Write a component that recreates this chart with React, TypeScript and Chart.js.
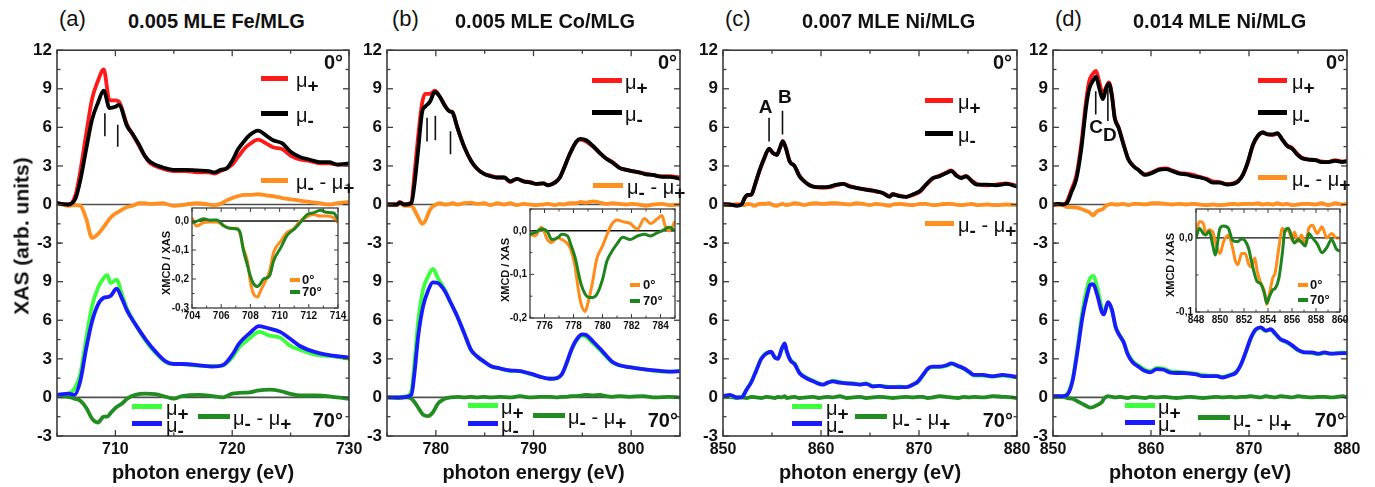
import React, { useEffect, useRef } from 'react';
import { Chart, registerables } from 'chart.js';

Chart.register(...registerables);

const FONT = "'Liberation Sans', Arial, Helvetica, sans-serif";
Chart.defaults.font.family = FONT;

// ---------------- panel (a): 0.005 MLE Fe/MLG ----------------
const feXTicks = [710, 720, 730];
const feEnergy0 = [705, 706, 706.6, 707, 707.5, 708, 708.5, 709, 709.5, 710, 710.3, 711, 711.5, 712, 712.5, 713, 714, 715, 716, 717, 718, 718.5, 719, 719.5, 720, 720.5, 721, 721.5, 722.2, 723, 723.5, 724.3, 725, 725.8, 726.6, 727.5, 728.3, 729, 730];
const feMuPlus0 = [0.1, 0.0, 0.8, 2.6, 5.5, 8.2, 9.6, 10.5, 8.1, 8.1, 8.0, 6.2, 5.4, 4.6, 3.8, 3.2, 2.8, 2.6, 2.6, 2.5, 2.5, 2.4, 2.6, 2.8, 3.1, 3.7, 4.3, 4.7, 5.05, 4.7, 4.45, 4.3, 3.8, 3.5, 3.4, 3.2, 3.2, 3.1, 3.1];
const feMuMinus0 = [0.1, 0.0, 0.5, 1.9, 4.3, 6.6, 7.9, 8.85, 7.5, 7.6, 7.75, 6.1, 5.45, 4.7, 3.8, 3.3, 2.9, 2.7, 2.7, 2.65, 2.6, 2.5, 2.7, 2.8, 3.4, 4.3, 4.9, 5.4, 5.75, 5.3, 5.0, 4.75, 4.1, 3.7, 3.5, 3.3, 3.3, 3.1, 3.2];
const feXmcd0 = [0.1, -0.1, -0.05, -0.1, -1.1, -2.6, -2.3, -1.75, -1.1, -0.7, -0.55, -0.2, -0.1, 0.1, 0.1, 0.05, 0.1, -0.1, 0.0, 0.1, 0.0, -0.05, 0.05, 0.3, 0.5, 0.65, 0.75, 0.75, 0.8, 0.7, 0.65, 0.5, 0.4, 0.3, 0.2, 0.1, 0.0, 0.1, 0.2];
const feEnergy70 = [705, 706, 706.5, 707, 707.5, 708, 708.5, 709, 709.3, 709.6, 710.1, 710.6, 711, 711.7, 712.6, 713.4, 714.3, 715, 715.7, 717.2, 718.3, 719.2, 720, 720.6, 721.5, 722.3, 723.2, 724.1, 724.9, 725.8, 727.2, 728.6, 730];
const feMuPlus70 = [0.2, 0.3, 0.7, 1.85, 4.6, 7.1, 8.5, 9.3, 9.5, 8.9, 9.15, 7.9, 6.9, 5.7, 4.4, 3.5, 2.75, 2.6, 2.6, 2.45, 2.45, 2.5, 3.1, 3.9, 4.6, 5.1, 4.8, 4.65, 4.05, 3.7, 3.3, 3.2, 3.0];
const feMuMinus70 = [0.2, 0.3, 0.2, 1.3, 3.8, 5.9, 7.2, 7.75, 7.8, 7.9, 8.45, 7.6, 6.75, 5.7, 4.5, 3.6, 2.8, 2.6, 2.6, 2.5, 2.4, 2.5, 3.3, 4.2, 5.0, 5.55, 5.35, 5.1, 4.6, 4.0, 3.5, 3.25, 3.1];
const feXmcd70 = [0.1, 0.05, -0.1, -0.25, -0.8, -1.65, -1.95, -1.5, -1.5, -1.2, -0.75, -0.45, -0.1, 0.2, 0.3, 0.25, 0.05, -0.1, 0.1, 0.2, 0.1, 0.0, 0.3, 0.35, 0.4, 0.55, 0.6, 0.5, 0.3, 0.15, 0.15, 0.05, -0.1];
const feMarkE = [709.1, 710.2];
const feMarkTop = [7.1, 6.2];
const feMarkBottom = [5.3, 4.5];

// inset (a)
const feInsetXTicks = [704, 706, 708, 710, 712, 714];
const feInsetYTicks = [-0.3, -0.2, -0.1, 0];
const feInsetE = [704, 704.3, 704.8, 705.2, 705.7, 706.2, 706.6, 707.1, 707.3, 707.5, 707.8, 708.0, 708.2, 708.5, 708.7, 708.9, 709.3, 709.6, 710.1, 710.5, 711.0, 711.4, 711.9, 712.3, 712.8, 713.2, 713.7, 714];
const feInset0 = [0.011, -0.017, -0.005, -0.003, -0.003, -0.017, -0.025, -0.025, -0.045, -0.09, -0.14, -0.21, -0.25, -0.262, -0.24, -0.22, -0.175, -0.107, -0.068, -0.04, -0.025, 0.0, 0.015, 0.023, 0.017, 0.017, 0.011, -0.006];
const feInset70 = [-0.006, -0.001, 0.008, 0.003, 0.004, -0.017, -0.025, -0.028, -0.04, -0.096, -0.153, -0.19, -0.215, -0.226, -0.215, -0.2, -0.19, -0.136, -0.09, -0.05, -0.028, -0.006, 0.023, 0.028, 0.037, 0.03, 0.028, 0.006];

// ---------------- panel (b): 0.005 MLE Co/MLG ----------------
const coXTicks = [780, 790, 800];
const coEnergy0 = [775, 776, 776.3, 776.8, 777.5, 777.8, 778.2, 778.6, 778.9, 779.4, 779.9, 780.4, 780.9, 781.4, 781.7, 782.2, 782.9, 783.6, 784.2, 784.9, 785.6, 786.3, 787, 787.6, 788.3, 789, 789.7, 790.3, 791, 791.5, 792.2, 792.7, 793, 793.7, 794.4, 794.8, 795.4, 796.1, 796.8, 797.4, 798.1, 798.8, 799.5, 800.1, 800.8, 801.5, 802.2, 803.2, 803.9, 805];
const coMuPlus0 = [0, 0, 0.2, 0, 0.2, 2.3, 5.4, 7.9, 8.6, 8.6, 8.85, 8.4, 7.75, 7.25, 7.2, 6.0, 4.5, 3.4, 2.8, 2.4, 2.25, 2.1, 2.1, 1.75, 2.0, 1.8, 1.75, 1.6, 1.65, 1.5, 1.75, 2.1, 2.6, 3.9, 4.9, 5.05, 4.9, 4.5, 4.0, 3.6, 3.3, 2.85, 2.7, 2.6, 2.5, 2.4, 2.3, 2.2, 2.2, 2.1];
const coMuMinus0 = [0, 0, 0.15, 0, 0.1, 1.5, 4.3, 7.2, 7.6, 8.0, 8.75, 8.4, 7.7, 7.25, 7.15, 6.0, 4.5, 3.4, 2.8, 2.4, 2.2, 2.1, 2.1, 1.8, 2.0, 1.8, 1.7, 1.6, 1.65, 1.5, 1.7, 2.1, 2.6, 3.9, 4.9, 5.1, 5.0, 4.55, 4.0, 3.6, 3.25, 2.85, 2.7, 2.6, 2.5, 2.35, 2.3, 2.15, 2.15, 2.0];
const coXmcd0 = [0, -0.05, 0.1, -0.1, -0.1, -0.4, -1.0, -1.5, -1.3, -0.4, -0.05, 0.1, 0.0, 0.05, 0.1, 0.0, 0.1, 0.15, 0.05, 0.1, -0.05, 0.1, 0.0, 0.1, -0.05, 0.05, 0.0, -0.05, 0.0, 0.05, -0.05, 0.05, 0.0, 0.1, 0.1, 0.2, 0.15, 0.25, 0.15, 0.05, 0.1, 0.05, 0.0, 0.05, 0.0, -0.1, 0.0, 0.05, -0.05, 0.0];
const coEnergy70 = [775, 776, 777, 777.5, 777.8, 778.2, 778.7, 779.2, 779.7, 780.2, 780.9, 781.5, 782.2, 782.9, 783.6, 784.2, 784.9, 785.6, 786.6, 787.6, 788.6, 789.7, 790.7, 791.7, 792.4, 792.9, 793.4, 793.9, 794.4, 795, 795.4, 796.1, 796.8, 797.4, 798.1, 798.8, 799.8, 801.2, 802.5, 803.9, 805];
const coMuPlus70 = [0, 0, 0.1, 0.5, 2.6, 6.0, 8.4, 9.4, 10.0, 9.3, 8.4, 7.4, 6.3, 5.0, 3.7, 3.2, 2.8, 2.45, 2.25, 2.05, 2.05, 1.8, 1.6, 1.45, 1.5, 1.8, 2.65, 3.7, 4.4, 4.8, 4.7, 4.2, 3.7, 3.2, 2.7, 2.5, 2.35, 2.2, 2.05, 2.0, 2.05];
const coMuMinus70 = [0, 0, 0.05, 0.2, 1.8, 4.8, 7.1, 8.3, 8.95, 8.9, 8.3, 7.4, 6.3, 5.0, 3.7, 3.2, 2.8, 2.45, 2.25, 2.1, 2.05, 1.85, 1.6, 1.45, 1.5, 1.8, 2.7, 3.75, 4.5, 4.9, 4.85, 4.35, 3.8, 3.3, 2.75, 2.5, 2.35, 2.2, 2.1, 2.0, 2.05];
const coXmcd70 = [0, -0.05, 0.0, -0.1, -0.35, -0.8, -1.35, -1.45, -1.15, -0.5, -0.1, 0.0, 0.05, 0.0, 0.05, 0.0, 0.05, 0.0, 0.05, 0.0, 0.1, 0.0, 0.05, 0.05, 0.0, 0.05, 0.05, 0.1, 0.1, 0.15, 0.2, 0.15, 0.2, 0.1, 0.05, 0.1, 0.05, 0.1, 0.0, 0.05, 0.0];
const coMarkE = [779.1, 779.95, 781.5];
const coMarkTop = [6.75, 6.9, 5.7];
const coMarkBottom = [4.9, 5.0, 3.9];

// inset (b)
const coInsetXTicks = [776, 778, 780, 782, 784];
const coInsetYTicks = [-0.2, -0.1, 0];
const coInsetE = [775, 775.35, 775.8, 776.2, 776.5, 776.9, 777.2, 777.6, 777.8, 778.1, 778.3, 778.5, 778.8, 779.0, 779.3, 779.6, 780.0, 780.3, 780.6, 781.0, 781.4, 781.9, 782.4, 782.9, 783.3, 783.8, 784.1, 784.3, 784.6, 785];
const coInset0 = [-0.008, -0.012, 0.008, -0.02, -0.027, -0.016, -0.02, -0.03, -0.042, -0.08, -0.127, -0.165, -0.185, -0.165, -0.12, -0.065, -0.035, -0.01, 0.013, 0.025, 0.021, 0.017, 0.004, 0.028, 0.017, 0.028, 0.035, 0.013, 0.0, 0.022];
const coInset70 = [-0.008, -0.004, 0.004, -0.002, -0.02, -0.016, -0.008, -0.012, -0.03, -0.06, -0.09, -0.12, -0.145, -0.152, -0.153, -0.146, -0.112, -0.07, -0.05, -0.03, -0.015, -0.02, -0.012, -0.008, -0.012, -0.004, 0.0, 0.004, 0.008, 0.0];

// ---------------- panel (c): 0.007 MLE Ni/MLG ----------------
const niXTicks = [850, 860, 870, 880];
const niCEnergy0 = [850, 850.7, 851.4, 851.9, 852.2, 852.5, 852.9, 853.2, 853.7, 854.2, 854.7, 855.1, 855.5, 855.8, 856.1, 856.4, 856.8, 857.3, 857.8, 858.3, 858.8, 859.5, 860.2, 860.9, 861.6, 862.3, 862.9, 863.6, 864.3, 865, 865.6, 866.3, 867, 867.3, 868, 868.7, 869.4, 870.1, 870.7, 871.4, 872.1, 872.8, 873.3, 873.8, 874.3, 874.8, 875.4, 875.9, 876.9, 877.9, 878.9, 880];
const niCMuMinus0 = [0, 0, -0.1, 0, 0.5, 0.75, 0.75, 1.4, 2.6, 3.6, 4.35, 4.0, 3.85, 4.4, 4.9, 4.4, 3.35, 3.0, 2.2, 1.8, 1.5, 1.35, 1.35, 1.4, 1.55, 1.6, 1.4, 1.3, 1.2, 1.1, 1.05, 0.9, 0.6, 0.8, 0.65, 0.6, 0.8, 1.05, 1.55, 2.05, 2.2, 2.45, 2.6, 2.25, 2.05, 2.2, 1.8, 1.55, 1.55, 1.5, 1.6, 1.4];
const niCMuPlus0 = [0.05, 0, -0.05, 0.05, 0.45, 0.7, 0.8, 1.35, 2.55, 3.55, 4.3, 4.0, 3.9, 4.35, 4.95, 4.45, 3.4, 3.0, 2.25, 1.8, 1.55, 1.35, 1.3, 1.35, 1.5, 1.6, 1.45, 1.3, 1.2, 1.15, 1.0, 0.9, 0.65, 0.8, 0.7, 0.6, 0.75, 1.0, 1.5, 2.0, 2.25, 2.5, 2.65, 2.3, 2.1, 2.2, 1.85, 1.6, 1.5, 1.55, 1.65, 1.45];
const niCXmcd0 = [0, -0.05, 0.05, 0, -0.05, 0.05, 0, -0.1, 0.05, 0.05, 0.1, -0.05, -0.1, 0, 0.05, -0.05, 0, 0.1, 0.05, -0.05, 0.05, 0.1, 0.05, 0.1, 0.1, 0.05, 0, 0.1, 0.05, -0.05, 0.05, 0, -0.1, 0, 0.05, 0, -0.05, 0.05, 0.05, -0.05, 0, 0.05, 0.05, 0, -0.05, 0, 0.05, -0.05, 0, -0.05, 0, -0.05];
const niCEnergy70 = [850, 850.7, 851.4, 851.9, 852.4, 852.9, 853.4, 853.9, 854.4, 854.9, 855.3, 855.6, 856, 856.3, 856.5, 856.9, 857.3, 857.8, 858.5, 859.2, 859.8, 860.2, 860.7, 861.2, 861.9, 862.6, 863.3, 864, 864.6, 865.3, 866, 866.7, 867.3, 868, 868.7, 869.4, 869.9, 870.4, 870.9, 871.4, 872.1, 872.8, 873.3, 874, 874.6, 875.1, 875.6, 876.5, 877.5, 878.5, 879.5, 880];
const niCMuMinus70 = [0.1, 0.2, 0, 0, 0.6, 1.2, 2.1, 3.0, 3.4, 3.55, 3.1, 3.0, 3.8, 4.2, 3.6, 2.85, 2.6, 1.9, 1.5, 1.25, 1.05, 1.0, 1.15, 1.25, 1.15, 1.1, 1.05, 1.0, 1.05, 0.85, 0.9, 0.8, 0.8, 0.8, 0.8, 1.0, 1.25, 1.75, 2.25, 2.4, 2.4, 2.5, 2.65, 2.45, 2.25, 2.0, 1.75, 1.75, 1.65, 1.75, 1.65, 1.6];
const niCMuPlus70 = [0.05, 0.15, 0, 0.05, 0.6, 1.25, 2.15, 3.0, 3.45, 3.5, 3.1, 3.05, 3.75, 4.15, 3.6, 2.9, 2.65, 1.95, 1.55, 1.3, 1.1, 1.0, 1.15, 1.3, 1.2, 1.1, 1.1, 1.0, 1.1, 0.9, 0.9, 0.85, 0.8, 0.85, 0.8, 1.0, 1.2, 1.7, 2.2, 2.35, 2.35, 2.45, 2.6, 2.4, 2.2, 1.95, 1.7, 1.7, 1.6, 1.7, 1.6, 1.55];
const niCXmcd70 = [0, 0.05, -0.05, 0, -0.05, 0.05, 0, -0.05, 0.05, 0, -0.05, 0.05, 0, 0.1, -0.05, 0, 0.05, -0.05, 0, 0.05, -0.05, 0, 0.05, 0, 0.1, -0.05, 0, 0.05, -0.05, 0, 0.05, 0, -0.05, 0, 0.05, 0, 0.05, 0.05, -0.05, 0, 0.1, 0.05, 0, -0.05, 0.05, 0, 0.05, 0, 0.1, 0.05, 0, -0.05];
const niCMarkE = [854.7, 856.07];
const niCMarkTop = [6.75, 7.3];
const niCMarkBottom = [4.9, 5.45];
const niCPeakNames = ['A', 'B'];
const niCPeakE = [854.36, 856.3];
const niCPeakY = [7.55, 8.3];

// ---------------- panel (d): 0.014 MLE Ni/MLG ----------------
const niDEnergy0 = [850, 850.5, 851, 851.4, 851.9, 852.4, 852.9, 853.4, 853.7, 854.1, 854.4, 854.7, 855.1, 855.4, 855.7, 856, 856.3, 856.7, 857.2, 857.7, 858.2, 858.7, 859.4, 860.1, 860.8, 861.5, 862.2, 862.9, 863.6, 864.3, 865, 865.7, 866.3, 867, 867.7, 868.4, 868.9, 869.4, 869.9, 870.4, 870.9, 871.4, 871.9, 872.4, 872.9, 873.4, 873.9, 874.4, 874.9, 875.4, 876.1, 876.8, 877.4, 878.1, 878.8, 879.5, 880];
const niDMuMinus0 = [0, 0.05, 0, 0.1, 1.0, 2.05, 4.4, 7.7, 9.0, 9.65, 9.95, 9.1, 8.2, 9.0, 9.4, 8.5, 6.7, 5.95, 4.65, 3.5, 3.0, 2.7, 2.3, 2.45, 2.7, 2.75, 2.6, 2.4, 2.35, 2.2, 2.1, 1.95, 1.7, 1.7, 1.55, 1.6, 1.8, 2.35, 3.35, 4.65, 5.35, 5.6, 5.45, 5.45, 5.55, 5.05, 4.55, 4.35, 3.9, 3.6, 3.5, 3.45, 3.3, 3.3, 3.4, 3.3, 3.35];
const niDMuPlus0 = [0, 0.05, 0, 0.2, 1.2, 2.3, 4.8, 8.2, 9.6, 10.2, 10.4, 9.6, 8.6, 9.1, 9.5, 8.6, 6.8, 6.0, 4.7, 3.5, 3.0, 2.7, 2.35, 2.5, 2.75, 2.8, 2.65, 2.45, 2.4, 2.3, 2.15, 2.0, 1.8, 1.75, 1.6, 1.65, 1.85, 2.35, 3.3, 4.6, 5.3, 5.6, 5.45, 5.4, 5.5, 5.05, 4.6, 4.4, 3.95, 3.65, 3.5, 3.45, 3.35, 3.3, 3.45, 3.35, 3.4];
const niDXmcd0 = [0, -0.05, 0, -0.2, -0.2, -0.25, -0.35, -0.5, -0.6, -0.85, -0.6, -0.45, -0.35, -0.1, 0.0, 0.05, 0.0, 0.0, 0.05, -0.05, 0.05, 0.05, 0.0, 0.1, 0.1, 0.05, 0.0, 0.05, 0.0, 0.05, 0.0, -0.05, 0.0, -0.05, 0.0, 0.05, 0.0, 0.05, 0.05, 0.05, 0.1, 0.0, 0.05, 0.0, 0.1, 0.0, 0.05, -0.05, 0.0, 0.05, 0.05, 0.0, 0.1, -0.05, 0.1, 0.0, 0.05];
const niDEnergy70 = [850, 851, 851.5, 852, 852.5, 853, 853.5, 853.8, 854.1, 854.5, 855, 855.2, 855.6, 856, 856.4, 856.8, 857.2, 857.6, 858.1, 858.8, 859.4, 859.9, 860.6, 861.3, 861.9, 862.6, 863.3, 864, 864.6, 865.3, 866, 866.7, 867.3, 868, 868.7, 869.2, 869.7, 870.2, 870.7, 871.2, 871.7, 872.2, 872.7, 873.2, 873.9, 874.4, 875, 875.7, 876.4, 877.1, 877.7, 878.4, 879.6, 880];
const niDMuMinus70 = [0.1, 0.1, 0.25, 1.3, 3.6, 6.2, 8.0, 8.75, 8.8, 8.0, 6.6, 6.45, 7.4, 6.85, 5.45, 4.8, 4.3, 3.4, 2.75, 2.35, 2.05, 1.95, 2.2, 2.15, 1.95, 1.9, 1.9, 1.85, 1.8, 1.65, 1.65, 1.65, 1.55, 1.7, 1.95, 2.6, 3.6, 4.65, 5.3, 5.45, 5.2, 5.3, 4.95, 4.55, 4.3, 4.05, 3.7, 3.5, 3.5, 3.4, 3.5, 3.4, 3.45, 3.45];
const niDMuPlus70 = [0.1, 0.1, 0.3, 1.4, 3.9, 6.7, 8.6, 9.3, 9.45, 8.6, 6.9, 6.6, 7.3, 6.85, 5.45, 4.85, 4.35, 3.5, 2.85, 2.45, 2.15, 2.05, 2.3, 2.25, 2.05, 2.0, 1.95, 1.9, 1.85, 1.75, 1.7, 1.7, 1.6, 1.75, 2.0, 2.6, 3.55, 4.6, 5.25, 5.4, 5.15, 5.25, 4.9, 4.5, 4.25, 4.0, 3.65, 3.5, 3.45, 3.35, 3.45, 3.4, 3.5, 3.4];
const niDXmcd70 = [0, 0.05, -0.05, -0.1, -0.3, -0.5, -0.7, -0.8, -0.75, -0.6, -0.35, -0.1, 0.1, 0.05, 0, 0.05, 0, -0.05, 0.05, 0, -0.05, 0.05, 0, 0.05, 0, -0.05, 0, 0.05, 0, -0.05, 0, 0.05, 0, 0.05, 0, 0.05, 0.05, 0.1, 0.05, 0, 0.1, 0.05, 0, 0.1, 0.05, 0, 0.1, 0.05, 0, 0.05, 0.05, 0, 0.1, 0];
const niDMarkE = [854.36, 855.6];
const niDMarkTop = [8.8, 9.0];
const niDMarkBottom = [7.0, 6.5];
const niDPeakNames = ['C', 'D'];
const niDPeakE = [854.4, 855.8];
const niDPeakY = [5.97, 5.32];

// inset (d)
const niInsetXTicks = [848, 850, 852, 854, 856, 858, 860];
const niInsetYTicks = [-0.1, 0];
const niInsetE = [848, 848.3, 848.6, 848.8, 849.1, 849.4, 849.6, 850, 850.3, 850.7, 851, 851.3, 851.5, 851.8, 852.1, 852.4, 852.6, 852.9, 853.1, 853.4, 853.7, 853.9, 854.1, 854.4, 854.6, 854.9, 855.2, 855.4, 855.7, 856, 856.2, 856.5, 856.8, 857.1, 857.4, 857.7, 858.1, 858.5, 858.9, 859.3, 859.7, 860];
const niInset0 = [0.008, 0.022, 0.02, 0.007, 0.011, 0.008, -0.005, -0.021, -0.005, 0.004, -0.01, -0.032, -0.036, -0.021, -0.021, -0.036, -0.039, -0.027, -0.045, -0.061, -0.072, -0.09, -0.077, -0.054, -0.047, -0.014, 0.013, 0.009, 0.011, -0.003, 0.008, -0.005, 0.004, -0.01, 0.013, 0.017, 0.006, 0.015, 0.0, 0.006, 0.0, 0.0];
const niInset70 = [0.0, 0.013, 0.006, 0.004, 0.009, -0.01, -0.023, 0.013, 0.016, 0.013, -0.002, -0.005, -0.005, -0.001, -0.004, -0.015, -0.03, -0.05, -0.059, -0.062, -0.075, -0.088, -0.08, -0.07, -0.068, -0.055, -0.02, 0.009, 0.013, 0.0, -0.007, -0.002, -0.006, -0.011, 0.006, 0.0, -0.008, -0.02, -0.013, -0.002, -0.015, -0.018];

// shared y ticks of the two stacked sub-plots
const yTicksTop = [-3, 0, 3, 6, 9, 12];
const yTicksBottom = [-3, 0, 3, 6, 9];

// ---------------- styles ----------------
const RED = '#ff1a1a';
const BLACK = '#000000';
const ORANGE = '#ff9020';
const LIME = '#3cff3c';
const BLUE = '#1a1aff';
const DKGREEN = '#218c21';
const IN_ORANGE = '#ff8c1a';
const IN_GREEN = '#1e841e';
const FRAME = '#3c3c3c';
const TXT = '#111111';

const PLOT_TOP = 45;
const PLOT_BOTTOM = 436;
const Y_AXIS_W = 56;
const PAD_R = 20;
const CANVAS_TOP = 35;
const CANVAS_H = 432;

const IN_YW = 44;
const IN_PR = 14;
const IN_PT = 8;
const IN_XH = 18;

type Curve = { e: number[]; v: number[]; color: string; axis: string; order: number };
type PanelCfg = {
  left: number; right: number; xMin: number; xMax: number; xTicks: number[];
  curves: Curve[];
  marks: { e: number[]; top: number[]; bottom: number[] };
  letters?: { text: string[]; e: number[]; y: number[] };
};
type InsetCfg = {
  L: number; R: number; T: number; B: number; xMin: number; xMax: number; yMin: number; yMax: number;
  xTicks: number[]; yTicks: number[]; e: number[]; v0: number[]; v70: number[];
};

const xy = (e: number[], v: number[]) => e.map((x, i) => ({ x, y: v[i] }));

const set = (e: number[], p: number[], m: number[], d: number[], e70: number[], p70: number[], m70: number[], d70: number[]): Curve[] => [
  { e, v: m, color: BLACK, axis: 'yt', order: 1 },
  { e, v: p, color: RED, axis: 'yt', order: 2 },
  { e, v: d, color: ORANGE, axis: 'yt', order: 3 },
  { e: e70, v: m70, color: BLUE, axis: 'yb', order: 1 },
  { e: e70, v: p70, color: LIME, axis: 'yb', order: 2 },
  { e: e70, v: d70, color: DKGREEN, axis: 'yb', order: 3 },
];

const PANELS: PanelCfg[] = [
  {
    left: 57, right: 349, xMin: 705, xMax: 730, xTicks: feXTicks,
    curves: set(feEnergy0, feMuPlus0, feMuMinus0, feXmcd0, feEnergy70, feMuPlus70, feMuMinus70, feXmcd70),
    marks: { e: feMarkE, top: feMarkTop, bottom: feMarkBottom },
  },
  {
    left: 387, right: 680, xMin: 775, xMax: 805, xTicks: coXTicks,
    curves: set(coEnergy0, coMuPlus0, coMuMinus0, coXmcd0, coEnergy70, coMuPlus70, coMuMinus70, coXmcd70),
    marks: { e: coMarkE, top: coMarkTop, bottom: coMarkBottom },
  },
  {
    left: 723, right: 1017, xMin: 850, xMax: 880, xTicks: niXTicks,
    curves: set(niCEnergy0, niCMuPlus0, niCMuMinus0, niCXmcd0, niCEnergy70, niCMuPlus70, niCMuMinus70, niCXmcd70),
    marks: { e: niCMarkE, top: niCMarkTop, bottom: niCMarkBottom },
    letters: { text: niCPeakNames, e: niCPeakE, y: niCPeakY },
  },
  {
    left: 1053, right: 1347, xMin: 850, xMax: 880, xTicks: niXTicks,
    curves: set(niDEnergy0, niDMuPlus0, niDMuMinus0, niDXmcd0, niDEnergy70, niDMuPlus70, niDMuMinus70, niDXmcd70),
    marks: { e: niDMarkE, top: niDMarkTop, bottom: niDMarkBottom },
    letters: { text: niDPeakNames, e: niDPeakE, y: niDPeakY },
  },
];

const INSETS: InsetCfg[] = [
  { L: 192, R: 338, T: 207, B: 308, xMin: 704, xMax: 714, yMin: -0.3, yMax: 0.045, xTicks: feInsetXTicks, yTicks: feInsetYTicks, e: feInsetE, v0: feInset0, v70: feInset70 },
  { L: 530, R: 675, T: 208, B: 318, xMin: 775, xMax: 785, yMin: -0.2, yMax: 0.05, xTicks: coInsetXTicks, yTicks: coInsetYTicks, e: coInsetE, v0: coInset0, v70: coInset70 },
  { L: 1196, R: 1340, T: 208, B: 312, xMin: 848, xMax: 860, yMin: -0.1, yMax: 0.039, xTicks: niInsetXTicks, yTicks: niInsetYTicks, e: niInsetE, v0: niInset0, v70: niInset70 },
];

const near = (a: number, b: number) => Math.abs(a - b) < 1e-6;

function seg(ctx: CanvasRenderingContext2D, x1: number, y1: number, x2: number, y2: number) {
  ctx.beginPath();
  ctx.moveTo(x1, y1);
  ctx.lineTo(x2, y2);
  ctx.stroke();
}

function mainDecor(cfg: PanelCfg) {
  return {
    id: 'mainDecor',
    beforeDatasetsDraw(chart: any) {
      const { ctx, chartArea: a, scales } = chart;
      ctx.save();
      ctx.strokeStyle = '#505050';
      ctx.lineWidth = 1.6;
      ['yt', 'yb'].forEach((id) => {
        const y = scales[id].getPixelForValue(0);
        seg(ctx, a.left, y, a.right, y);
      });
      ctx.restore();
    },
    afterDatasetsDraw(chart: any) {
      const { ctx, chartArea: a, scales } = chart;
      ctx.save();
      ctx.strokeStyle = FRAME;
      ctx.lineWidth = 1.6;
      ctx.strokeRect(a.left, a.top, a.right - a.left, a.bottom - a.top);
      ctx.lineWidth = 1.3;
      for (let v = cfg.xMin; v <= cfg.xMax + 1e-6; v += 5) {
        const major = cfg.xTicks.some((t) => near(t, v));
        const len = major ? 6 : 3.5;
        const x = scales.x.getPixelForValue(v);
        seg(ctx, x, a.bottom, x, a.bottom - len);
        seg(ctx, x, a.top, x, a.top + len);
      }
      [['yt', yTicksTop], ['yb', yTicksBottom]].forEach(([id, ticks]: any) => {
        for (let v = -3; v <= 12 + 1e-6; v += 1.5) {
          const major = ticks.some((t: number) => near(t, v));
          const len = major ? 6 : 3.5;
          const y = scales[id].getPixelForValue(v);
          seg(ctx, a.left, y, a.left + len, y);
          seg(ctx, a.right, y, a.right - len, y);
        }
      });
      if (cfg.letters) {
        ctx.fillStyle = TXT;
        ctx.font = `bold 19px ${FONT}`;
        ctx.textAlign = 'center';
        ctx.textBaseline = 'middle';
        cfg.letters.text.forEach((t, i) => {
          ctx.fillText(t, scales.x.getPixelForValue(cfg.letters!.e[i]), scales.yt.getPixelForValue(cfg.letters!.y[i]));
        });
      }
      ctx.restore();
    },
  };
}

function yScale(ticks: number[]) {
  return {
    type: 'linear',
    position: 'left',
    stack: 'xas',
    stackWeight: 1,
    min: -3,
    max: 12,
    grid: { display: false, drawTicks: false },
    border: { display: false },
    ticks: { font: { family: FONT, size: 17, weight: 'bold' }, color: TXT, padding: 5, autoSkip: false },
    afterBuildTicks: (s: any) => { s.ticks = ticks.map((value) => ({ value })); },
    afterFit: (s: any) => { s.width = Y_AXIS_W; },
  };
}

function MainPanel({ cfg }: { cfg: PanelCfg }) {
  const ref = useRef<HTMLCanvasElement>(null);
  const w = cfg.right - cfg.left + Y_AXIS_W + PAD_R;
  useEffect(() => {
    const datasets: any[] = cfg.curves.map((c) => ({
      data: xy(c.e, c.v),
      borderColor: c.color,
      borderWidth: 3.8,
      pointRadius: 0,
      fill: false,
      cubicInterpolationMode: 'monotone',
      borderJoinStyle: 'round',
      borderCapStyle: 'round',
      xAxisID: 'x',
      yAxisID: c.axis,
      order: c.order,
    }));
    cfg.marks.e.forEach((e, i) => {
      datasets.push({
        data: [{ x: e, y: cfg.marks.top[i] }, { x: e, y: cfg.marks.bottom[i] }],
        borderColor: '#111',
        borderWidth: 1.6,
        pointRadius: 0,
        xAxisID: 'x',
        yAxisID: 'yt',
        order: 0,
      });
    });
    const chart = new Chart(ref.current as HTMLCanvasElement, {
      type: 'line',
      data: { datasets },
      options: {
        animation: false,
        responsive: false,
        maintainAspectRatio: false,
        events: [],
        layout: { padding: { top: PLOT_TOP - CANVAS_TOP, right: PAD_R, left: 0, bottom: 0 } },
        plugins: { legend: { display: false }, tooltip: { enabled: false } },
        scales: {
          x: {
            type: 'linear',
            min: cfg.xMin,
            max: cfg.xMax,
            grid: { display: false, drawTicks: false },
            border: { display: false },
            ticks: { font: { family: FONT, size: 16, weight: 'bold' }, color: TXT, padding: 4, maxRotation: 0, autoSkip: false },
            afterBuildTicks: (s: any) => { s.ticks = cfg.xTicks.map((value) => ({ value })); },
            afterFit: (s: any) => { s.height = CANVAS_H - (PLOT_BOTTOM - CANVAS_TOP); },
          },
          yb: yScale(yTicksBottom),
          yt: yScale(yTicksTop),
        } as any,
      },
      plugins: [mainDecor(cfg)],
    } as any);
    return () => chart.destroy();
  }, [cfg]);
  return (
    <canvas
      ref={ref}
      width={w}
      height={CANVAS_H}
      style={{ position: 'absolute', left: cfg.left - Y_AXIS_W, top: CANVAS_TOP, width: w, height: CANVAS_H }}
    />
  );
}

function insetDecor(cfg: InsetCfg) {
  return {
    id: 'insetDecor',
    beforeDraw(chart: any) {
      const { ctx, chartArea: a } = chart;
      ctx.save();
      ctx.fillStyle = '#ffffff';
      ctx.fillRect(a.left, a.top, a.right - a.left, a.bottom - a.top);
      ctx.restore();
    },
    beforeDatasetsDraw(chart: any) {
      const { ctx, chartArea: a, scales } = chart;
      ctx.save();
      ctx.strokeStyle = '#111';
      ctx.lineWidth = 1.4;
      const y = scales.y.getPixelForValue(0);
      seg(ctx, a.left, y, a.right, y);
      ctx.restore();
    },
    afterDatasetsDraw(chart: any) {
      const { ctx, chartArea: a, scales } = chart;
      ctx.save();
      ctx.strokeStyle = FRAME;
      ctx.lineWidth = 1.3;
      ctx.strokeRect(a.left, a.top, a.right - a.left, a.bottom - a.top);
      ctx.lineWidth = 1;
      for (let v = cfg.xMin; v <= cfg.xMax + 1e-6; v += 1) {
        const major = cfg.xTicks.some((t) => near(t, v));
        const len = major ? 4 : 2.5;
        const x = scales.x.getPixelForValue(v);
        seg(ctx, x, a.bottom, x, a.bottom - len);
        seg(ctx, x, a.top, x, a.top + len);
      }
      const k0 = Math.ceil(cfg.yMin / 0.05 - 1e-6);
      const k1 = Math.floor(cfg.yMax / 0.05 + 1e-6);
      for (let k = k0; k <= k1; k++) {
        const v = k * 0.05;
        const major = cfg.yTicks.some((t) => near(t, v));
        const len = major ? 4 : 2.5;
        const y = scales.y.getPixelForValue(v);
        seg(ctx, a.left, y, a.left + len, y);
        seg(ctx, a.right, y, a.right - len, y);
      }
      ctx.restore();
    },
  };
}

function InsetPanel({ cfg }: { cfg: InsetCfg }) {
  const ref = useRef<HTMLCanvasElement>(null);
  const pw = cfg.R - cfg.L;
  const ph = cfg.B - cfg.T;
  const W = pw + IN_YW + IN_PR;
  const H = ph + IN_PT + IN_XH;
  useEffect(() => {
    const fmt = (v: number) => (Math.abs(v) < 1e-9 ? '0,0' : v.toFixed(1).replace('.', ','));
    const line = (v: number[], color: string, order: number) => ({
      data: xy(cfg.e, v),
      borderColor: color,
      borderWidth: 3,
      pointRadius: 0,
      fill: false,
      cubicInterpolationMode: 'monotone',
      borderJoinStyle: 'round',
      order,
    });
    const chart = new Chart(ref.current as HTMLCanvasElement, {
      type: 'line',
      data: { datasets: [line(cfg.v0, IN_ORANGE, 2), line(cfg.v70, IN_GREEN, 1)] },
      options: {
        animation: false,
        responsive: false,
        maintainAspectRatio: false,
        events: [],
        layout: { padding: { top: IN_PT, right: IN_PR, left: 0, bottom: 0 } },
        plugins: { legend: { display: false }, tooltip: { enabled: false } },
        scales: {
          x: {
            type: 'linear',
            min: cfg.xMin,
            max: cfg.xMax,
            grid: { display: false, drawTicks: false },
            border: { display: false },
            ticks: { font: { family: FONT, size: 10, weight: 'bold' }, color: TXT, padding: 2, maxRotation: 0, autoSkip: false },
            afterBuildTicks: (s: any) => { s.ticks = cfg.xTicks.map((value) => ({ value })); },
            afterFit: (s: any) => { s.height = IN_XH; },
          },
          y: {
            type: 'linear',
            min: cfg.yMin,
            max: cfg.yMax,
            grid: { display: false, drawTicks: false },
            border: { display: false },
            ticks: { font: { family: FONT, size: 10, weight: 'bold' }, color: TXT, padding: 3, autoSkip: false, callback: (v: any) => fmt(Number(v)) },
            afterBuildTicks: (s: any) => { s.ticks = cfg.yTicks.map((value) => ({ value })); },
            afterFit: (s: any) => { s.width = IN_YW; },
          },
        } as any,
      },
      plugins: [insetDecor(cfg)],
    } as any);
    return () => chart.destroy();
  }, [cfg]);
  return (
    <canvas
      ref={ref}
      width={W}
      height={H}
      style={{ position: 'absolute', left: cfg.L - IN_YW, top: cfg.T - IN_PT, width: W, height: H }}
    />
  );
}

// ---------------- text helpers ----------------
type TxtProps = { x: number; y: number; size: number; bold?: boolean; align?: string; family?: string; children: any };
function Txt({ x, y, size, bold, align = 'left', family = FONT, children }: TxtProps) {
  const tr = align === 'right' ? 'translate(-100%,-50%)' : align === 'center' ? 'translate(-50%,-50%)' : 'translateY(-50%)';
  return (
    <div style={{ position: 'absolute', left: x, top: y, fontFamily: family, fontSize: size, fontWeight: bold ? 'bold' : 'normal', lineHeight: 1, whiteSpace: 'nowrap', color: TXT, transform: tr }}>
      {children}
    </div>
  );
}
function VTxt({ x, y, size, children }: { x: number; y: number; size: number; children: any }) {
  return (
    <div style={{ position: 'absolute', left: x, top: y, fontFamily: FONT, fontSize: size, fontWeight: 'bold', lineHeight: 1, whiteSpace: 'nowrap', color: TXT, transform: 'translate(-50%,-50%) rotate(-90deg)' }}>
      {children}
    </div>
  );
}
function Swatch({ x, y, len, color, thick = 5 }: { x: number; y: number; len: number; color: string; thick?: number }) {
  return <div style={{ position: 'absolute', left: x, top: y - thick / 2, width: len, height: thick, background: color }} />;
}
const Sub = ({ c }: { c: string }) => (
  <span style={{ fontWeight: 'bold', fontSize: '0.95em', position: 'relative', top: '0.3em' }}>{c}</span>
);
const MuPlus = () => <>μ<Sub c="+" /></>;
const MuMinus = () => <>μ<Sub c="-" /></>;
const MuDiff = () => <>μ<Sub c="-" /> - μ<Sub c="+" /></>;

type Leg = { x: number; len: number; yP: number; yM: number; xT: number; xD: number; lenD: number; yD: number; xDT: number; c: string[] };
function LegendBlock({ l }: { l: Leg }) {
  return (
    <>
      <Swatch x={l.x} y={l.yP} len={l.len} color={l.c[0]} />
      <Txt x={l.xT} y={l.yP + 1.5} size={20}><MuPlus /></Txt>
      <Swatch x={l.x} y={l.yM} len={l.len} color={l.c[1]} />
      <Txt x={l.xT} y={l.yM + 1.5} size={20}><MuMinus /></Txt>
      <Swatch x={l.xD} y={l.yD} len={l.lenD} color={l.c[2]} />
      <Txt x={l.xDT} y={l.yD + 1.5} size={20}><MuDiff /></Txt>
    </>
  );
}

const TOP_C = [RED, BLACK, ORANGE];
const BOT_C = [LIME, BLUE, DKGREEN];
const LEGENDS: Leg[] = [
  { x: 261, len: 27, yP: 78, yM: 113, xT: 296, xD: 261, lenD: 27, yD: 180, xDT: 296, c: TOP_C },
  { x: 132, len: 30, yP: 406, yM: 423, xT: 166, xD: 198, lenD: 32, yD: 416, xDT: 233, c: BOT_C },
  { x: 592, len: 30, yP: 80, yM: 112, xT: 625, xD: 593, lenD: 30, yD: 185, xDT: 627, c: TOP_C },
  { x: 468, len: 30, yP: 405, yM: 423, xT: 501, xD: 533, lenD: 32, yD: 415, xDT: 568, c: BOT_C },
  { x: 925, len: 28, yP: 100, yM: 133, xT: 958, xD: 925, lenD: 29, yD: 223, xDT: 958, c: TOP_C },
  { x: 792, len: 30, yP: 406, yM: 423, xT: 826, xD: 855, lenD: 32, yD: 416, xDT: 892, c: BOT_C },
  { x: 1258, len: 29, yP: 80, yM: 112, xT: 1292, xD: 1258, lenD: 29, yD: 177, xDT: 1292, c: TOP_C },
  { x: 1125, len: 30, yP: 405, yM: 422, xT: 1158, xD: 1198, lenD: 32, yD: 417, xDT: 1233, c: BOT_C },
];

const TITLES = [
  { tag: '(a)', tx: 59, name: '0.005 MLE Fe/MLG', nx: 128 },
  { tag: '(b)', tx: 392, name: '0.005 MLE Co/MLG', nx: 455 },
  { tag: '(c)', tx: 725, name: '0.007 MLE Ni/MLG', nx: 802 },
  { tag: '(d)', tx: 1055, name: '0.014 MLE Ni/MLG', nx: 1133 },
];
const ANGLE_POS = [
  { r0: 343, r70: 343 },
  { r0: 677, r70: 678 },
  { r0: 1012, r70: 1013 },
  { r0: 1345, r70: 1345 },
];
const INSET_LEG = [
  { sx: 290, y0: 280, y70: 292, tx: 302, yLabel: 263, xLabel: 166 },
  { sx: 630, y0: 285, y70: 301, tx: 643, yLabel: 270, xLabel: 505 },
  { sx: 1298, y0: 285, y70: 300, tx: 1310, yLabel: 265, xLabel: 1170 },
];

export default function App() {
  return (
    <div style={{ position: 'absolute', left: 0, top: 0, width: 1375, height: 487, background: '#ffffff', overflow: 'hidden' }}>
      {PANELS.map((p, i) => <MainPanel key={'p' + i} cfg={p} />)}
      {INSETS.map((c, i) => <InsetPanel key={'i' + i} cfg={c} />)}

      {TITLES.map((t, i) => (
        <React.Fragment key={'t' + i}>
          <Txt x={t.tx} y={19} size={22}>{t.tag}</Txt>
          <Txt x={t.nx} y={21} size={20} bold>{t.name}</Txt>
        </React.Fragment>
      ))}

      {PANELS.map((p, i) => (
        <Txt key={'xl' + i} x={(p.left + p.right) / 2} y={472} size={20} bold align="center">photon energy (eV)</Txt>
      ))}
      <VTxt x={21} y={236} size={21}>XAS (arb. units)</VTxt>

      {ANGLE_POS.map((a, i) => (
        <React.Fragment key={'a' + i}>
          <Txt x={a.r0} y={62} size={20} bold align="right">0°</Txt>
          <Txt x={a.r70} y={420} size={20} bold align="right">70°</Txt>
        </React.Fragment>
      ))}

      {LEGENDS.map((l, i) => <LegendBlock key={'l' + i} l={l} />)}

      {INSET_LEG.map((g, i) => (
        <React.Fragment key={'g' + i}>
          <VTxt x={g.xLabel} y={g.yLabel} size={11}>XMCD / XAS</VTxt>
          <Swatch x={g.sx} y={g.y0} len={10} color={IN_ORANGE} thick={4} />
          <Txt x={g.tx} y={g.y0 - 1.5} size={13} bold>0°</Txt>
          <Swatch x={g.sx} y={g.y70} len={10} color={IN_GREEN} thick={4} />
          <Txt x={g.tx} y={g.y70 - 1.5} size={13} bold>70°</Txt>
        </React.Fragment>
      ))}
    </div>
  );
}
